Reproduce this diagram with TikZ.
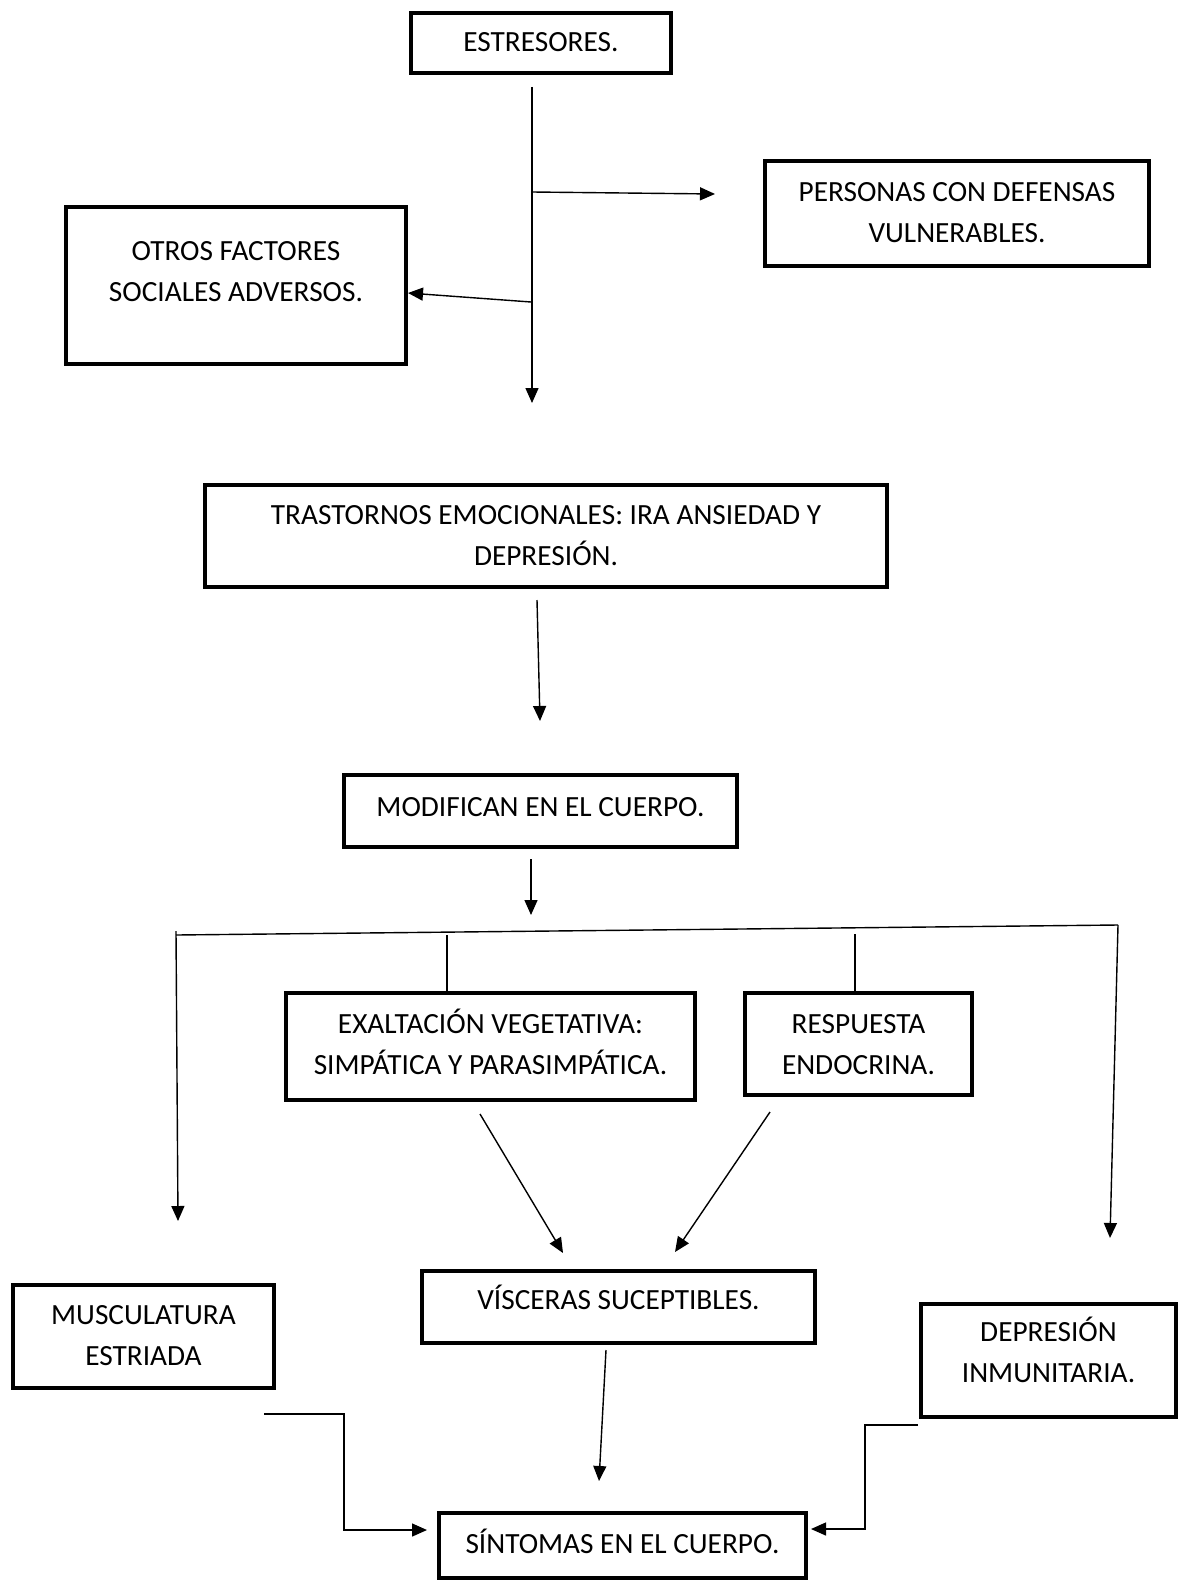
\documentclass[tikz,border=0pt]{standalone}
\usepackage{fontspec}
\setmainfont{Carlito}
\usetikzlibrary{arrows.meta}

% Box contents: width, height, first baseline from top, text
\newcommand\tbox[4]{\parbox[c][#2][t]{#1}{\centering\rule{0pt}{#3}#4\par}}

\begin{document}
\begin{tikzpicture}[x=1pt,y=-1pt,
  box/.style={draw, line width=4.5pt, rectangle, inner sep=0pt, font=\fontsize{29.3}{41}\selectfont},
  link/.style={line width=1.4pt},
  arr/.style={link, -{Triangle[length=15pt,width=13pt]}}]
\useasboundingbox (0,0) rectangle (1180,1581);

% boxes
\node[box] (estr)  at (541,43)     {\tbox{260pt}{60pt}{39pt}{ESTRESORES.}};
\node[box] (pers)  at (957,213.5)  {\tbox{384pt}{105pt}{40pt}{PERSONAS CON DEFENSAS\\VULNERABLES.}};
\node[box] (otros) at (236,285.5)  {\tbox{340pt}{157pt}{53pt}{OTROS FACTORES\\SOCIALES ADVERSOS.}};
\node[box] (tras)  at (546,536)    {\tbox{682pt}{102pt}{39pt}{TRASTORNOS EMOCIONALES: IRA ANSIEDAD Y\\DEPRESIÓN.}};
\node[box] (modif) at (540.5,811)  {\tbox{393pt}{72pt}{41pt}{MODIFICAN EN EL CUERPO.}};
\node[box] (exal)  at (490.5,1046.5) {\tbox{409pt}{107pt}{40pt}{EXALTACIÓN VEGETATIVA:\\SIMPÁTICA Y PARASIMPÁTICA.}};
\node[box] (resp)  at (858.5,1044) {\tbox{227pt}{102pt}{40pt}{RESPUESTA\\ENDOCRINA.}};
\node[box] (visc)  at (618.5,1307) {\tbox{393pt}{72pt}{38pt}{VÍSCERAS SUCEPTIBLES.}};
\node[box] (musc)  at (143.5,1336.5) {\tbox{261pt}{103pt}{39pt}{MUSCULATURA\\ESTRIADA}};
\node[box] (depr)  at (1048.5,1360.5) {\tbox{255pt}{113pt}{37pt}{DEPRESIÓN\\INMUNITARIA.}};
\node[box] (sint)  at (622.5,1545.5) {\tbox{367pt}{65pt}{40pt}{SÍNTOMAS EN EL CUERPO.}};

% stem below the stressors with its two side branches
\coordinate (s0) at (532,87);
\coordinate (s1) at (532,403);
\coordinate (br) at (532,192);
\coordinate (brtip) at (715,194);
\coordinate (bl) at (531,302);
\coordinate (bltip) at (408,293);
\draw[arr] (s0) -- (s1);
\draw[arr] (br) -- (brtip);
\draw[arr] (bl) -- (bltip);

% central chain
\coordinate (t0) at (537,600);
\coordinate (t1) at (540,721);
\draw[arr] (t0) -- (t1);
\coordinate (m0) at (531,859);
\coordinate (m1) at (531,915);
\draw[arr] (m0) -- (m1);

% distribution bar
\coordinate (hl) at (176,935);
\coordinate (hr) at (1118,925);
\draw[link] (hl) -- (hr);
\coordinate (vl0) at (176,931);
\coordinate (vl1) at (178,1221);
\draw[arr] (vl0) -- (vl1);
\coordinate (vr1) at (1110,1238);
\draw[arr] (hr) -- (vr1);
\coordinate (ke) at (447,935);
\draw[link] (ke) -- (exal.north -| ke);
\coordinate (kr) at (855,934);
\draw[link] (kr) -- (resp.north -| kr);

% converging onto the viscera
\coordinate (d0) at (480,1114);
\coordinate (d1) at (563,1253);
\draw[arr] (d0) -- (d1);
\coordinate (e0) at (770,1112);
\coordinate (e1) at (675,1252);
\draw[arr] (e0) -- (e1);

% into the symptoms
\coordinate (v0) at (606,1350);
\coordinate (v1) at (599,1481);
\draw[arr] (v0) -- (v1);
\coordinate (l0) at (264,1414);
\coordinate (ltip) at (427,1530);
\draw[arr] (l0) -- (344,1414) -- (344,1530) -- (ltip);
\coordinate (r0) at (918,1425);
\coordinate (rtip) at (811,1529);
\draw[arr] (r0) -- (865,1425) -- (865,1529) -- (rtip);
\end{tikzpicture}
\end{document}
